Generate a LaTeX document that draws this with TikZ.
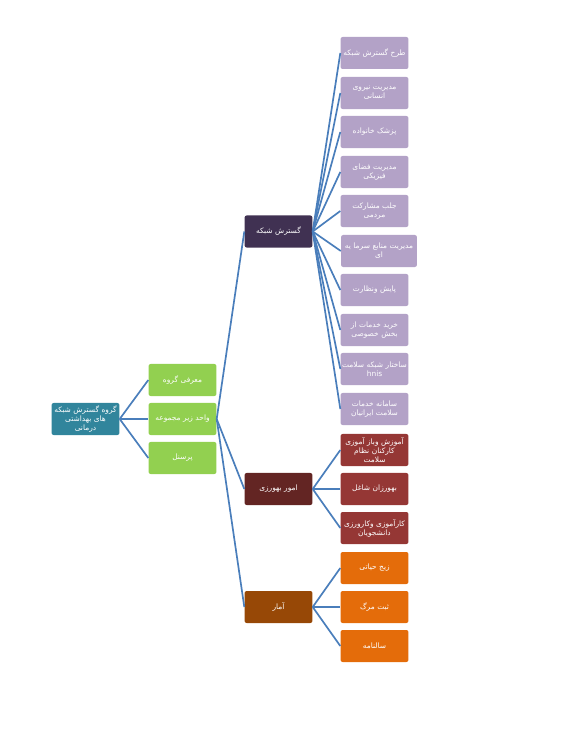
\documentclass[tikz,border=0pt]{standalone}
\usepackage{fontspec}
\newfontfamily\arabicfont[Script=Arabic]{DejaVu Sans}
\TeXXeTstate=1
\newcommand{\fa}[1]{{\arabicfont\beginR #1\endR}}
\definecolor{rootc}{HTML}{31859C}
\definecolor{greenc}{HTML}{92D050}
\definecolor{netc}{HTML}{403152}
\definecolor{behc}{HTML}{632523}
\definecolor{statc}{HTML}{974806}
\definecolor{leafnet}{HTML}{B3A2C7}
\definecolor{leafbeh}{HTML}{953735}
\definecolor{leafstat}{HTML}{E46C0A}
\definecolor{linec}{HTML}{4A7EBB}
\tikzset{
  box/.style={rectangle,rounded corners=1.5pt,minimum width=1.675cm,minimum height=0.8cm,
    inner sep=0.5pt,text width=1.66cm,align=center,text=white,font=\fontsize{5.3}{6.3}\selectfont},
  conn/.style={draw=linec,line width=1.2pt}
}
\begin{document}
\begin{tikzpicture}[x=0.025cm,y=-0.025cm]
			\useasboundingbox (0,0) rectangle (582,734);
			
			% root and first level
			\node[box,fill=rootc] (root) at (85.5,419) {\fa{گروه گسترش شبکه}\\\fa{های بهداشتی}\\\fa{درمانی}};
			\node[box,fill=greenc] (intro) at (182.5,380) {\fa{معرفی گروه}};
			\node[box,fill=greenc] (unit) at (182.5,419) {\fa{واحد زیر مجموعه}};
			\node[box,fill=greenc] (staff) at (182.5,458) {\fa{پرسنل}};
			
			% second level
			\node[box,fill=netc] (net) at (278.5,231.5) {\fa{گسترش شبکه}};
			\node[box,fill=behc] (beh) at (278.5,489) {\fa{امور بهورزی}};
			\node[box,fill=statc] (stat) at (278.5,607) {\fa{آمار}};
			
			% leaves of net
			\node[box,fill=leafnet] (n1) at (374.5,53) {\fa{طرح گسترش شبکه}};
			\node[box,fill=leafnet] (n2) at (374.5,93) {\fa{مدیریت نیروی}\\\fa{انسانی}};
			\node[box,fill=leafnet] (n3) at (374.5,132) {\fa{پزشک خانواده}};
			\node[box,fill=leafnet] (n4) at (374.5,172) {\fa{مدیریت فضای}\\\fa{فیزیکی}};
			\node[box,fill=leafnet] (n5) at (374.5,211) {\fa{جلب مشارکت}\\\fa{مردمی}};
			\node[box,fill=leafnet,minimum width=1.875cm,text width=1.86cm] (n6) at (379,251) {\fa{مدیریت منابع سرما یه}\\\fa{ای}};
			\node[box,fill=leafnet] (n7) at (374.5,290) {\fa{پایش ونظارت}};
			\node[box,fill=leafnet] (n8) at (374.5,330) {\fa{خرید خدمات از}\\\fa{بخش خصوصی}};
			\node[box,fill=leafnet] (n9) at (374.5,369) {\fa{ساختار شبکه سلامت}\\{\arabicfont hnis}};
			\node[box,fill=leafnet] (n10) at (374.5,409) {\fa{سامانه خدمات}\\\fa{سلامت ایرانیان}};
			
			% leaves of beh
			\node[box,fill=leafbeh] (b1) at (374.5,450) {\fa{آموزش وباز آموزی}\\\fa{کارکنان نظام}\\\fa{سلامت}};
			\node[box,fill=leafbeh] (b2) at (374.5,489) {\fa{بهورزان شاغل}};
			\node[box,fill=leafbeh] (b3) at (374.5,528) {\fa{کارآموزی وکارورزی}\\\fa{دانشجویان}};
			
			% leaves of stat
			\node[box,fill=leafstat] (s1) at (374.5,568) {\fa{زیج حیاتی}};
			\node[box,fill=leafstat] (s2) at (374.5,607) {\fa{ثبت مرگ}};
			\node[box,fill=leafstat] (s3) at (374.5,646) {\fa{سالنامه}};
			
			% connectors
			\foreach \t in {intro,unit,staff}
				\draw[conn] (root.east) -- (\t.west);
			\foreach \t in {net,beh,stat}
				\draw[conn] (unit.east) -- (\t.west);
			\foreach \t in {n1,n2,n3,n4,n5,n6,n7,n8,n9,n10}
				\draw[conn] (net.east) -- (\t.west);
			\foreach \t in {b1,b2,b3}
				\draw[conn] (beh.east) -- (\t.west);
			\foreach \t in {s1,s2,s3}
				\draw[conn] (stat.east) -- (\t.west);
		\end{tikzpicture}
\end{document}
